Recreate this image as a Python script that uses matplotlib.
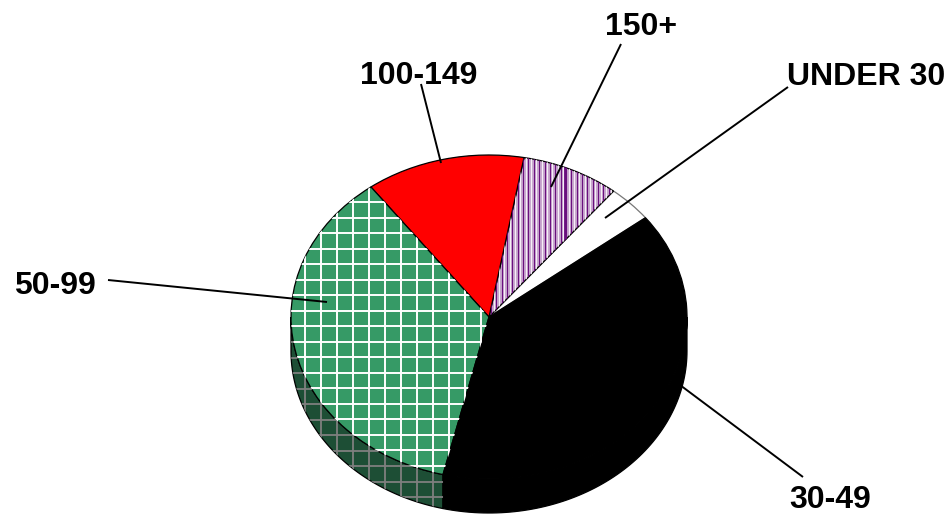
import numpy as np
import matplotlib
matplotlib.use('Agg')
import matplotlib.pyplot as plt

W, H = 951, 514
CX, CY = 489, 317      # pie centre, px
RX, RY = 198, 162      # ellipse radii, px
DEPTH = 34             # thickness of the disc, px

labels = ['UNDER 30', '150+', '100-149', '50-99', '30-49']
values = [3.67, 8.0, 13.0, 36.1, 39.23]
colors = ['#FFFFFF', '#C9A8CF', '#FF0000', '#369A66', '#000000']
side_colors = {'50-99': '#1D4E35', '30-49': '#000000'}

label_pos = [(866, 77), (641, 27), (419, 76), (55, 286), (830, 500)]
line_from = [(788, 87), (621, 44), (421, 84), (108, 280), (803, 477)]
line_to = [(605, 218), (551, 187), (441, 163), (327, 302), (680, 385)]

fig = plt.figure(figsize=(W / 100, H / 100), dpi=100, facecolor='white')

ax = fig.add_axes([0, 0, 1, 1])
wedges, _ = ax.pie(values, colors=colors, startangle=37.8, counterclock=True,
                   wedgeprops={'edgecolor': 'black', 'linewidth': 0.9})
ax.set_aspect('auto')
ax.set_xlim(-CX / RX, (W - CX) / RX)
ax.set_ylim((CY - H) / RY, CY / RY)
wedges[0].set_edgecolor('#777777')

# px overlay for hatch lines, leaders and labels
over = fig.add_axes([0, 0, 1, 1], zorder=5)
over.set_xlim(0, W)
over.set_ylim(H, 0)
over.axis('off')

# side of the disc, lower half of the rim only
for wedge, label in zip(wedges, labels):
    if label not in side_colors:
        continue
    t1 = max(wedge.theta1 % 360, 180)
    t2 = wedge.theta2 % 360
    if t2 <= t1:
        t2 = 360
    t = np.radians(np.linspace(t1, t2, 80))
    xs = np.cos(t)
    ys = np.sin(t)
    px = np.r_[xs, xs[::-1]]
    py = np.r_[ys, ys[::-1] - DEPTH / RY]
    side = ax.fill(px, py, facecolor=side_colors[label], edgecolor='black',
                   linewidth=0.9, zorder=wedge.get_zorder() - 0.5)[0]
    if label == '50-99':
        for x in np.arange(273, 445, 16.0):
            ln = over.plot([x, x], [300, 514], color='#7F7F7F', lw=1.3)[0]
            ln.set_clip_path(side)
        for y in np.arange(342, 514, 15.5):
            ln = over.plot([280, 445], [y, y], color='#7F7F7F', lw=1.3)[0]
            ln.set_clip_path(side)

green = wedges[labels.index('50-99')]
for x in np.arange(305, 490, 16.0):
    ln = over.plot([x, x], [150, 480], color='white', lw=1.4)[0]
    ln.set_clip_path(green)
for y in np.arange(202, 480, 15.5):
    ln = over.plot([285, 490], [y, y], color='white', lw=1.4)[0]
    ln.set_clip_path(green)

purple = wedges[labels.index('150+')]
for x in np.arange(491, 615, 5.35):
    ln = over.plot([x, x], [150, 320], color='#6A0F7E', lw=0.8)[0]
    ln.set_clip_path(purple)
    ln = over.plot([x + 2.6, x + 2.6], [150, 320], color='white', lw=0.6)[0]
    ln.set_clip_path(purple)
ln = over.plot([565, 565], [150, 320], color='#6A0F7E', lw=2.0)[0]
ln.set_clip_path(purple)

for label, pos, a, b in zip(labels, label_pos, line_from, line_to):
    over.plot([a[0], b[0]], [a[1], b[1]], color='black', lw=1.4,
              solid_capstyle='butt')
    over.text(pos[0], pos[1], label, ha='center', va='center', fontsize=23,
              family='Liberation Sans', color='black', fontweight='bold')

fig.savefig('out.png', dpi=100, facecolor='white')
